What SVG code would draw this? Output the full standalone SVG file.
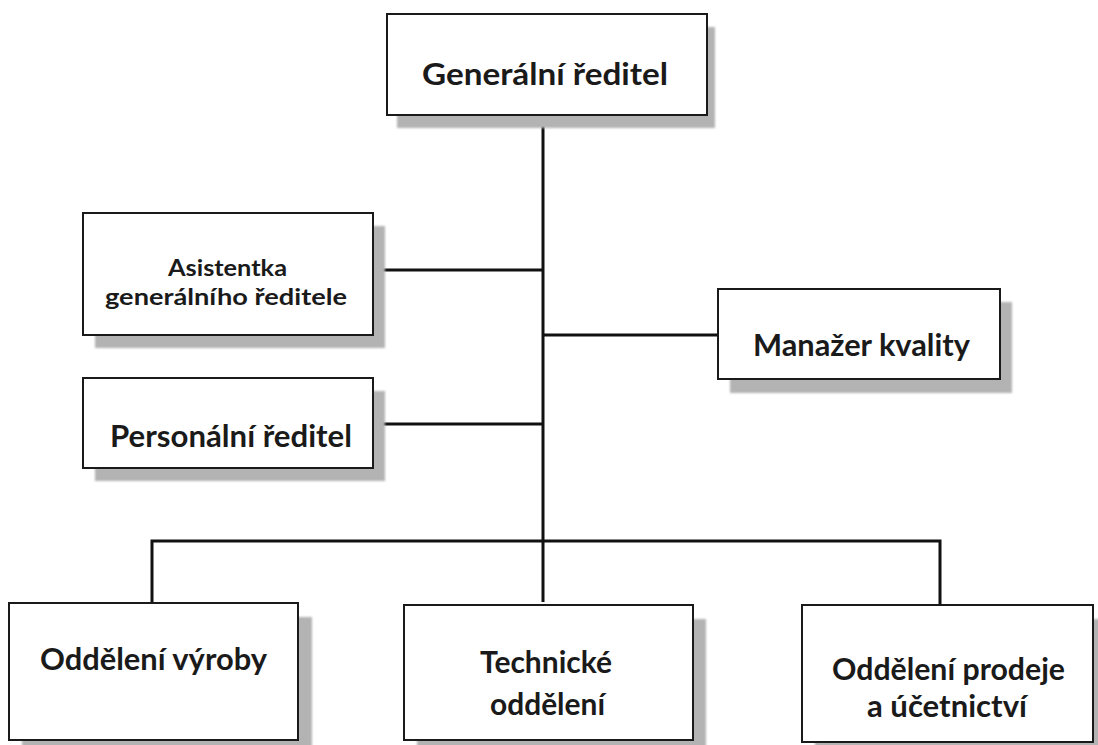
<svg xmlns="http://www.w3.org/2000/svg" width="1098" height="745" viewBox="0 0 1098 745">
<style>
.box{fill:#ffffff;stroke:#1a1a1a;stroke-width:2}
.shadow{fill:#b3b3b3}
.conn{stroke:#111111;stroke-width:3;fill:none}
text{font-family:Lato,"Open Sans","Liberation Sans",sans-serif;font-weight:700;fill:#1a1a1a;text-anchor:middle}
.big{font-size:30px}
.small{font-size:23px}
</style>
<defs>
<filter id="blur" x="-5%" y="-5%" width="110%" height="110%"><feGaussianBlur stdDeviation="0.8"/></filter>
</defs>
<rect width="1098" height="745" fill="#ffffff"/>
<g id="connectors">
<line class="conn" x1="543" y1="115" x2="543" y2="602"/>
<line class="conn" x1="373" y1="270" x2="543" y2="270"/>
<line class="conn" x1="543" y1="335" x2="718" y2="335"/>
<line class="conn" x1="373" y1="424" x2="543" y2="424"/>
<polyline class="conn" points="152,604 152,541 940,541 940,605"/>
</g>
<g id="generalni-reditel">
<rect class="shadow" filter="url(#blur)" x="397" y="27" width="318" height="101"/>
<rect class="box" x="387" y="14" width="320" height="101"/>
<text class="big" x="545" y="85" textLength="246" lengthAdjust="spacingAndGlyphs">Generální ředitel</text>
</g>
<g id="asistentka">
<rect class="shadow" filter="url(#blur)" x="95" y="226" width="290" height="122"/>
<rect class="box" x="83" y="213" width="290" height="122"/>
<text class="small" x="227.5" y="276" textLength="119" lengthAdjust="spacingAndGlyphs">Asistentka</text>
<text class="small" x="226" y="305" textLength="242" lengthAdjust="spacingAndGlyphs">generálního ředitele</text>
</g>
<g id="manazer-kvality">
<rect class="shadow" filter="url(#blur)" x="730" y="302" width="282" height="91"/>
<rect class="box" x="718" y="289" width="282" height="90"/>
<text class="big" x="861.5" y="356" textLength="217" lengthAdjust="spacingAndGlyphs">Manažer kvality</text>
</g>
<g id="personalni-reditel">
<rect class="shadow" filter="url(#blur)" x="95" y="391" width="290" height="90"/>
<rect class="box" x="83" y="378" width="290" height="90"/>
<text class="big" x="231" y="447" textLength="242" lengthAdjust="spacingAndGlyphs">Personální ředitel</text>
</g>
<g id="oddeleni-vyroby">
<rect class="shadow" filter="url(#blur)" x="22" y="617" width="290" height="137"/>
<rect class="box" x="9" y="603" width="289" height="137"/>
<text class="big" x="153.5" y="670" textLength="227" lengthAdjust="spacingAndGlyphs">Oddělení výroby</text>
</g>
<g id="technicke-oddeleni">
<rect class="shadow" filter="url(#blur)" x="417" y="619" width="289" height="135"/>
<rect class="box" x="404" y="605" width="289" height="135"/>
<text class="big" x="546" y="673" textLength="132" lengthAdjust="spacingAndGlyphs">Technické</text>
<text class="big" x="547.5" y="715" textLength="115" lengthAdjust="spacingAndGlyphs">oddělení</text>
</g>
<g id="oddeleni-prodeje">
<rect class="shadow" filter="url(#blur)" x="815" y="619" width="291" height="137"/>
<rect class="box" x="802" y="605" width="291" height="137"/>
<text class="big" x="948.5" y="680" textLength="233" lengthAdjust="spacingAndGlyphs">Oddělení prodeje</text>
<text class="big" x="947" y="717" textLength="160" lengthAdjust="spacingAndGlyphs">a účetnictví</text>
</g>
</svg>
